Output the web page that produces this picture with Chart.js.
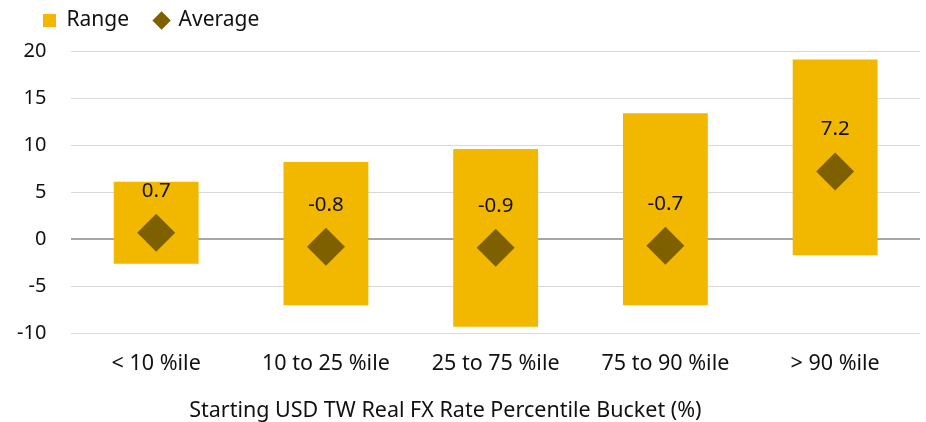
<!DOCTYPE html>
<html>
<head>
<meta charset="utf-8">
<script src="https://cdn.jsdelivr.net/npm/chart.js@4.4.1/dist/chart.umd.min.js"></script>
<style>
html,body{margin:0;padding:0;background:#fff;}
#wrap{width:926px;height:422px;}
</style>
</head>
<body>
<div id="wrap"><canvas id="c" width="926" height="422"></canvas></div>
<script>
const categories = ['< 10 %ile', '10 to 25 %ile', '25 to 75 %ile', '75 to 90 %ile', '> 90 %ile'];
const rangeLow = [-2.6, -7.0, -9.3, -7.0, -1.7];
const rangeHigh = [6.1, 8.2, 9.6, 13.4, 19.1];
const average = [0.7, -0.8, -0.9, -0.7, 7.2];
const yTicks = [-10, -5, 0, 5, 10, 15, 20];
const xTitle = 'Starting USD TW Real FX Rate Percentile Bucket (%)';

const FONT = '"Noto Sans", Lato, sans-serif';
const YELLOW = '#F2B800';
const BROWN = '#7F6000';

const avgLabels = {
  id: 'avgLabels',
  afterDatasetsDraw(chart) {
    const ctx = chart.ctx;
    const meta = chart.getDatasetMeta(1);
    ctx.save();
    ctx.font = '20.5px ' + FONT;
    ctx.fillStyle = '#111';
    ctx.textAlign = 'center';
    ctx.textBaseline = 'middle';
    meta.data.forEach((pt, i) => {
      ctx.fillText(average[i].toFixed(1), pt.x, pt.y - 42);
    });
    ctx.restore();
  }
};

const legendGap = {
  id: 'legendGap',
  beforeInit(chart) {
    const orig = chart.legend.fit;
    chart.legend.fit = function () {
      orig.call(this);
      this.height += 10;
    };
  }
};

new Chart(document.getElementById('c'), {
  data: {
    labels: categories,
    datasets: [
      {
        type: 'bar',
        label: 'Range',
        data: rangeLow.map((l, i) => [l, rangeHigh[i]]),
        backgroundColor: YELLOW,
        borderWidth: 0,
        barPercentage: 0.5,
        categoryPercentage: 1.0,
        order: 2
      },
      {
        type: 'line',
        label: 'Average',
        data: average,
        showLine: false,
        pointStyle: 'rectRot',
        pointRadius: 19,
        pointHoverRadius: 19,
        backgroundColor: BROWN,
        borderColor: BROWN,
        borderWidth: 0,
        order: 1
      }
    ]
  },
  options: {
    responsive: false,
    animation: false,
    layout: { autoPadding: false, padding: { left: 17, right: 6, top: -16, bottom: -2 } },
    plugins: {
      tooltip: { enabled: false },
      legend: {
        position: 'top',
        align: 'start',
        labels: {
          font: { size: 21, family: FONT },
          color: '#111',
          usePointStyle: true,
          boxHeight: 13,
          boxWidth: 13,
          padding: 26,
          generateLabels(chart) {
            return [
              { text: 'Range', fillStyle: YELLOW, strokeStyle: YELLOW, lineWidth: 0, pointStyle: 'rect', datasetIndex: 0, fontColor: '#111' },
              { text: 'Average', fillStyle: BROWN, strokeStyle: BROWN, lineWidth: 0, pointStyle: 'rectRot', datasetIndex: 1, fontColor: '#111' }
            ];
          }
        }
      }
    },
    scales: {
      x: {
        grid: { display: false, drawTicks: false },
        border: { display: false },
        ticks: { font: { size: 21.5, family: FONT }, color: '#111', padding: 18 },
        title: { display: true, text: xTitle + ' '.repeat(18), font: { size: 21.5, family: FONT }, color: '#111', padding: { top: 3, bottom: 0 } },
        afterFit(scale) { scale.paddingLeft = 0; scale.paddingRight = 0; }
      },
      y: {
        min: -10,
        max: 20,
        afterBuildTicks(axis) { axis.ticks = yTicks.map(v => ({ value: v })); },
        afterFit(scale) { scale.width -= 25; },
        grid: {
          color: ctx => ctx.tick && ctx.tick.value === 0 ? '#A6A6A6' : '#D9D9D9',
          lineWidth: ctx => ctx.tick && ctx.tick.value === 0 ? 2 : 1,
          drawTicks: false
        },
        border: { display: false },
        ticks: { font: { size: 20, family: FONT }, color: '#111', padding: 25 }
      }
    }
  },
  plugins: [avgLabels, legendGap]
});
</script>
</body>
</html>
